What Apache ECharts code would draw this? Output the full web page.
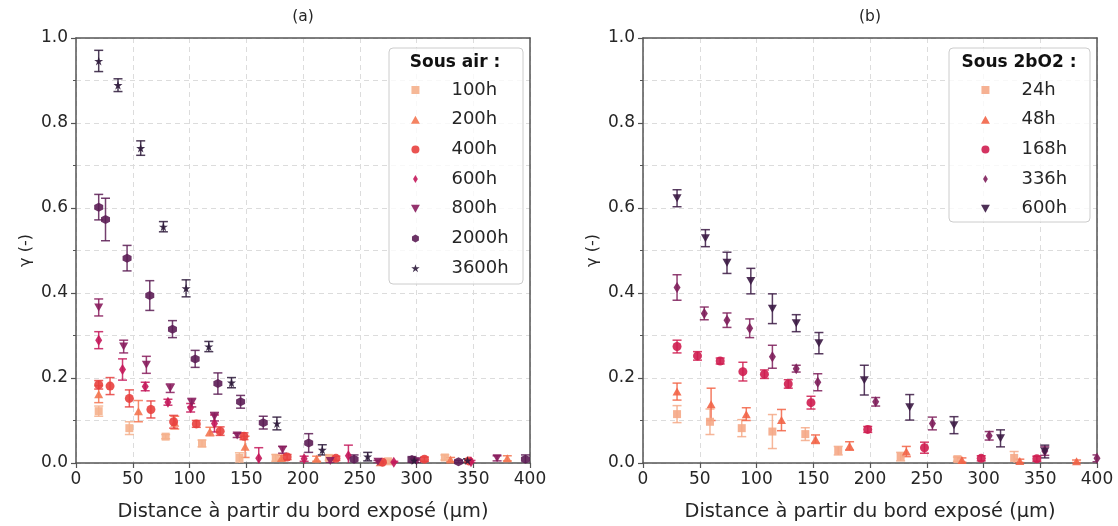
<!DOCTYPE html>
<html><head><meta charset="utf-8">
<script src="https://cdn.jsdelivr.net/npm/echarts@6/dist/echarts.min.js"></script>
<style>html,body{margin:0;padding:0;background:#fff}#c{width:1118px;height:526px}</style>
</head><body><div id="c"></div>
<script>
// ---- Data: [distance (µm), gamma, error] ----
const air100h  = [[20,0.122,0.012],[47,0.082,0.015],[79,0.062,0.005],[111,0.046,0.008],[144,0.012,0.012],[176,0.012,0.008],[223,0.012,0.006],[275,0.004,0.003],[325,0.013,0.006]];
const air200h  = [[20,0.162,0.02],[55,0.122,0.025],[87,0.095,0.015],[118,0.074,0.01],[149,0.038,0.025],[181,0.012,0.006],[212,0.01,0.006],[268,0.002,0.002],[330,0.008,0.005],[380,0.011,0.006]];
const air400h  = [[20,0.184,0.01],[30,0.181,0.02],[47,0.152,0.02],[66,0.126,0.02],[86,0.097,0.015],[106,0.092,0.008],[127,0.075,0.01],[148,0.063,0.008],[186,0.014,0.006],[229,0.011,0.005],[270,0.002,0.002],[307,0.009,0.005],[346,0.005,0.004]];
const air600h  = [[20,0.289,0.02],[41,0.22,0.025],[61,0.18,0.01],[81,0.143,0.007],[101,0.13,0.01],[122,0.093,0.02],[161,0.011,0.025],[201,0.01,0.006],[240,0.017,0.025],[280,0.002,0.002],[348,0.003,0.003]];
const air800h  = [[20,0.366,0.02],[42,0.274,0.015],[62,0.231,0.02],[83,0.176,0.01],[102,0.142,0.01],[122,0.109,0.01],[142,0.065,0.005],[182,0.031,0.008],[224,0.005,0.004],[266,0.003,0.003],[300,0.004,0.003],[371,0.011,0.006]];
const air2000h = [[20,0.602,0.03],[26,0.573,0.05],[45,0.482,0.03],[65,0.394,0.035],[85,0.315,0.02],[105,0.245,0.02],[125,0.187,0.025],[145,0.144,0.015],[165,0.095,0.015],[205,0.047,0.022],[245,0.009,0.01],[296,0.008,0.007],[337,0.003,0.003],[396,0.009,0.01]];
const air3600h = [[20,0.946,0.025],[37,0.889,0.015],[57,0.741,0.017],[77,0.556,0.012],[97,0.411,0.02],[117,0.274,0.012],[137,0.189,0.012],[177,0.093,0.015],[217,0.031,0.012],[257,0.015,0.01],[298,0.006,0.005],[345,0.006,0.004]];

const ox24h  = [[30,0.115,0.02],[59,0.097,0.03],[87,0.082,0.02],[114,0.074,0.04],[143,0.068,0.015],[172,0.029,0.01],[227,0.015,0.01],[277,0.009,0.005],[327,0.012,0.015]];
const ox48h  = [[30,0.168,0.02],[60,0.138,0.038],[91,0.115,0.015],[122,0.101,0.025],[152,0.056,0.01],[182,0.04,0.01],[232,0.027,0.012],[281,0.007,0.005],[332,0.005,0.004],[382,0.004,0.003]];
const ox168h = [[30,0.274,0.015],[48,0.252,0.01],[68,0.24,0.007],[88,0.215,0.022],[107,0.209,0.01],[128,0.186,0.01],[148,0.142,0.015],[198,0.079,0.007],[248,0.036,0.013],[298,0.011,0.006],[347,0.01,0.006]];
const ox336h = [[30,0.413,0.03],[54,0.352,0.015],[74,0.336,0.017],[94,0.317,0.022],[114,0.25,0.027],[135,0.222,0.008],[154,0.19,0.02],[205,0.144,0.01],[255,0.093,0.015],[305,0.064,0.01],[354,0.028,0.01],[400,0.011,0.008]];
const ox600h = [[30,0.623,0.02],[55,0.529,0.02],[74,0.471,0.025],[95,0.428,0.03],[114,0.363,0.035],[135,0.329,0.02],[155,0.282,0.025],[195,0.195,0.035],[235,0.131,0.03],[274,0.089,0.02],[315,0.058,0.02],[354,0.027,0.015]];

const airNames = ['100h','200h','400h','600h','800h','2000h','3600h'];
const oxNames  = ['24h','48h','168h','336h','600h'];
const titles = ['(a)','(b)'];
const legendTitles = ['Sous air :','Sous 2bO2 :'];
const xLabel = 'Distance à partir du bord exposé (µm)';
const yLabel = 'γ (-)';

// ---- Styles ----
const FONT = 'DejaVu Sans';
const SQ = 'path://M-1,-1L1,-1L1,1L-1,1Z';
const TRI_UP = 'path://M0,-1L1,0.8L-1,0.8Z';
const TRI_DN = 'path://M-1,-0.8L1,-0.8L0,1Z';
const CIRC = 'path://M1,0A1,1,0,1,1,-1,0A1,1,0,1,1,1,0Z';
const THIN_D = 'path://M0,-1L0.6,0L0,1L-0.6,0Z';
const HEX = 'path://M0,-1L0.866,-0.5L0.866,0.5L0,1L-0.866,0.5L-0.866,-0.5Z';
const STAR = 'path://M0,-1L0.223,-0.307L0.951,-0.309L0.361,0.117L0.588,0.809L0,0.38L-0.588,0.809L-0.361,0.117L-0.951,-0.309L-0.223,-0.307Z';

const airStyle = [
  {color:'#f5b08c', symbol:SQ, size:[8,8]},
  {color:'#f37651', symbol:TRI_UP, size:[9,8]},
  {color:'#e8403e', symbol:CIRC, size:[9,9]},
  {color:'#c4175a', symbol:THIN_D, size:[7,11]},
  {color:'#881c5d', symbol:TRI_DN, size:[9,8]},
  {color:'#5c1d55', symbol:HEX, size:[9,9]},
  {color:'#2e1a3b', symbol:STAR, size:[9,9]}
];
const oxStyle = [
  {color:'#f5a987', symbol:SQ, size:[8,8]},
  {color:'#f26447', symbol:TRI_UP, size:[9,8]},
  {color:'#cf1d50', symbol:CIRC, size:[9,9]},
  {color:'#7e1e5b', symbol:THIN_D, size:[7,11]},
  {color:'#3b1a44', symbol:TRI_DN, size:[9,8]}
];
const airData = [air100h, air200h, air400h, air600h, air800h, air2000h, air3600h];
const oxData = [ox24h, ox48h, ox168h, ox336h, ox600h];

const SPINE = '#555';
const TXT = '#262626';

function errRender(color){
  return function(params, api){
    const x = api.value(0), y = api.value(1), e = api.value(2);
    const p1 = api.coord([x, y + e]), p2 = api.coord([x, y - e]);
    const hw = 4.5;
    const st = {stroke: color, lineWidth: 1.5, opacity: 0.85};
    return {type:'group', children:[
      {type:'line', shape:{x1:p1[0], y1:p1[1], x2:p2[0], y2:p2[1]}, style:st},
      {type:'line', shape:{x1:p1[0]-hw, y1:p1[1], x2:p1[0]+hw, y2:p1[1]}, style:st},
      {type:'line', shape:{x1:p2[0]-hw, y1:p2[1], x2:p2[0]+hw, y2:p2[1]}, style:st}
    ]};
  };
}

const series = [];
function addGroup(prefix, names, datas, styles, axisIdx){
  names.forEach((n, i) => {
    const s = styles[i];
    series.push({
      type:'custom', name: prefix + n + ' err', xAxisIndex: axisIdx, yAxisIndex: axisIdx,
      renderItem: errRender(s.color), clip: true, silent: true,
      encode:{x:0, y:1}, data: datas[i]
    });
    series.push({
      type:'scatter', name: prefix + n, xAxisIndex: axisIdx, yAxisIndex: axisIdx,
      symbol: s.symbol, symbolSize: s.size, clip: true,
      itemStyle:{color: s.color, opacity: 0.9},
      data: datas[i].map(d => [d[0], d[1]])
    });
  });
}
addGroup('air:', airNames, airData, airStyle, 0);
addGroup('ox:', oxNames, oxData, oxStyle, 2);

const grids = [
  {left:76, top:38, width:454, height:425},
  {left:643, top:38, width:454, height:425}
];

function mainX(g){
  return {type:'value', gridIndex:g, min:0, max:400, interval:50, position:'bottom',
    name: xLabel, nameLocation:'middle', nameGap:39,
    nameTextStyle:{fontFamily:FONT, fontSize:19.4, color:TXT},
    axisLine:{show:true, onZero:false, lineStyle:{color:SPINE, width:1.5}},
    axisTick:{show:true, length:5, lineStyle:{color:SPINE, width:1.2}},
    axisLabel:{fontFamily:FONT, fontSize:17, color:TXT, margin:8},
    splitLine:{show:true, lineStyle:{color:'#dcdcdc', type:[5,4], width:1}}
  };
}
function frameX(g){
  return {type:'value', gridIndex:g, min:0, max:400, position:'top',
    axisLine:{show:true, onZero:false, lineStyle:{color:SPINE, width:1.5}},
    axisTick:{show:false}, axisLabel:{show:false}, splitLine:{show:false}};
}
function mainY(g){
  return {type:'value', gridIndex:g, min:0, max:1, interval:0.2, position:'left',
    name: yLabel, nameLocation:'middle', nameGap:42, nameRotate:90,
    nameTextStyle:{fontFamily:FONT, fontSize:16, color:TXT},
    axisLine:{show:true, onZero:false, lineStyle:{color:SPINE, width:1.5}},
    axisTick:{show:true, length:5, lineStyle:{color:SPINE, width:1.2}},
    minorTick:{show:true, splitNumber:2, length:3, lineStyle:{color:SPINE, width:1}},
    minorSplitLine:{show:true, lineStyle:{color:'#dcdcdc', type:[5,4], width:1}},
    axisLabel:{fontFamily:FONT, fontSize:17, color:TXT, margin:8, formatter: v => v.toFixed(1)},
    splitLine:{show:true, lineStyle:{color:'#dcdcdc', type:[5,4], width:1}}
  };
}
function frameY(g){
  return {type:'value', gridIndex:g, min:0, max:1, position:'right',
    axisLine:{show:true, onZero:false, lineStyle:{color:SPINE, width:1.5}},
    axisTick:{show:false}, axisLabel:{show:false}, splitLine:{show:false}};
}

function legendCfg(prefix, names, left){
  return {data:names.map(n => prefix + n), orient:'vertical', left:left, top:81, padding:0,
    itemWidth:62, itemHeight:8, itemGap:11.7, selectedMode:false,
    formatter: name => name.slice(prefix.length),
    textStyle:{fontFamily:FONT, fontSize:18, color:TXT}};
}

const option = {
  animation:false,
  backgroundColor:'#fff',
  grid: grids,
  xAxis:[mainX(0), frameX(0), mainX(1), frameX(1)],
  yAxis:[mainY(0), frameY(0), mainY(1), frameY(1)],
  legend:[legendCfg('air:', airNames, 411), legendCfg('ox:', oxNames, 981)],
  graphic:[
    {type:'text', x:303, y:17, style:{text:titles[0], font:'15.5px "DejaVu Sans"', fill:TXT, align:'center', verticalAlign:'middle'}},
    {type:'text', x:870, y:17, style:{text:titles[1], font:'15.5px "DejaVu Sans"', fill:TXT, align:'center', verticalAlign:'middle'}},
    {type:'rect', z:3, shape:{x:389, y:48, width:134, height:236, r:4},
      style:{fill:'rgba(255,255,255,0.8)', stroke:'#cccccc', lineWidth:1}},
    {type:'rect', z:3, shape:{x:949, y:48, width:141, height:174, r:4},
      style:{fill:'rgba(255,255,255,0.8)', stroke:'#cccccc', lineWidth:1}},
    {type:'text', z:5, x:455, y:63, style:{text:legendTitles[0], font:'bold 17px "DejaVu Sans"', fill:'#111', align:'center', verticalAlign:'middle'}},
    {type:'text', z:5, x:1019, y:63, style:{text:legendTitles[1], font:'bold 17px "DejaVu Sans"', fill:'#111', align:'center', verticalAlign:'middle'}}
  ],
  series: series
};

const chart = echarts.init(document.getElementById('c'), null, {renderer:'canvas'});
chart.setOption(option);
</script>
</body></html>
